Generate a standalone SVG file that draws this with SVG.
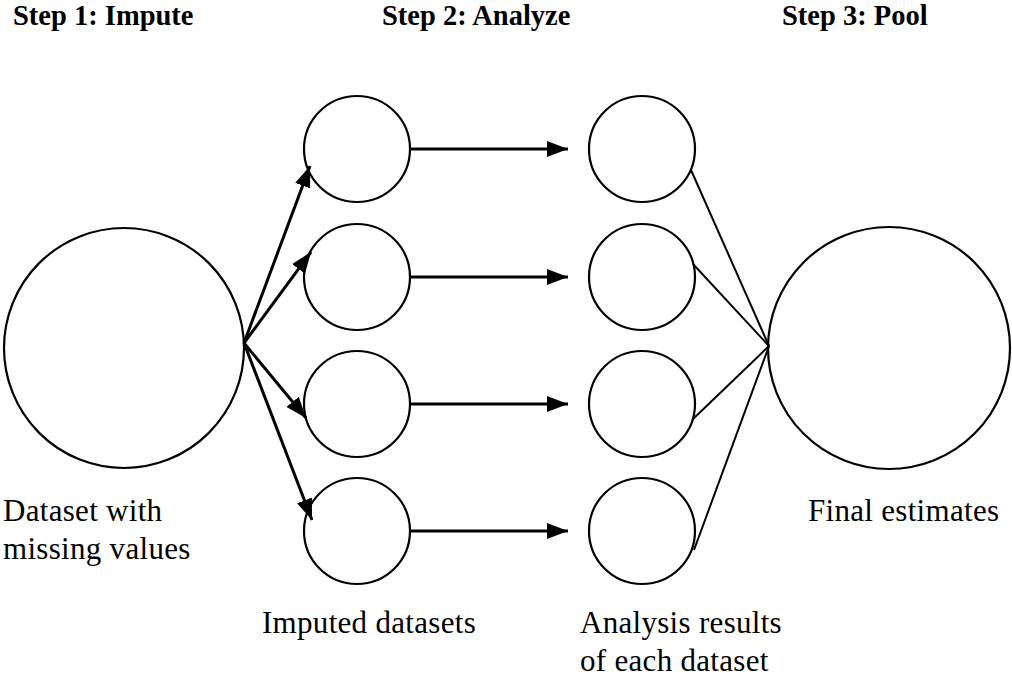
<svg xmlns="http://www.w3.org/2000/svg" width="1012" height="677" viewBox="0 0 1012 677">
<defs>
<style>
.c{fill:none;stroke:#000;stroke-width:2.2}
.a{stroke:#000;stroke-width:3;fill:none}
.l{stroke:#000;stroke-width:2;fill:none}
.h{font-family:"Liberation Serif","Times New Roman",serif;font-weight:bold;font-size:28.5px;fill:#000}
.t{font-family:"Liberation Serif","Times New Roman",serif;font-size:31px;letter-spacing:0.3px;fill:#000}
</style>
<marker id="ah" markerUnits="userSpaceOnUse" markerWidth="24" markerHeight="18" refX="21" refY="8" orient="auto">
<path d="M0,0 L21,8 L0,16 Z" fill="#000"/>
</marker>
</defs>
<rect width="1012" height="677" fill="#fff"/>
<g id="headings">
<text class="h" x="13" y="25">Step 1: Impute</text>
<text class="h" x="382" y="25">Step 2: Analyze</text>
<text class="h" x="782" y="25">Step 3: Pool</text>
</g>
<g id="dataset">
<circle class="c" cx="124" cy="348" r="120"/>
<text class="t" x="3" y="521">Dataset with</text>
<text class="t" x="3" y="559">missing values</text>
</g>
<g id="imputed">
<circle class="c" cx="357" cy="149" r="53"/>
<circle class="c" cx="357" cy="277" r="53"/>
<circle class="c" cx="357" cy="404" r="53"/>
<circle class="c" cx="357" cy="531" r="53"/>
<text class="t" x="262" y="633">Imputed datasets</text>
</g>
<g id="results">
<circle class="c" cx="642" cy="149" r="53"/>
<circle class="c" cx="642" cy="277" r="53"/>
<circle class="c" cx="642" cy="404" r="53"/>
<circle class="c" cx="642" cy="531" r="53"/>
<text class="t" x="580" y="633">Analysis results</text>
<text class="t" x="580" y="671">of each dataset</text>
</g>
<g id="final">
<circle class="c" cx="889" cy="348" r="121"/>
<text class="t" x="808" y="521">Final estimates</text>
</g>
<g id="connectors">
<line class="a" x1="244" y1="343" x2="310" y2="166" marker-end="url(#ah)"/>
<line class="a" x1="244" y1="343" x2="311" y2="252" marker-end="url(#ah)"/>
<line class="a" x1="244" y1="343" x2="306" y2="418" marker-end="url(#ah)"/>
<line class="a" x1="244" y1="343" x2="312" y2="520" marker-end="url(#ah)"/>
<line class="a" x1="410" y1="149" x2="568" y2="149" marker-end="url(#ah)"/>
<line class="a" x1="410" y1="277" x2="568" y2="277" marker-end="url(#ah)"/>
<line class="a" x1="410" y1="404" x2="568" y2="404" marker-end="url(#ah)"/>
<line class="a" x1="410" y1="531" x2="568" y2="531" marker-end="url(#ah)"/>
<line class="l" x1="691" y1="170" x2="769" y2="346"/>
<line class="l" x1="693" y1="264" x2="769" y2="346"/>
<line class="l" x1="692" y1="420" x2="769" y2="346"/>
<line class="l" x1="694" y1="550" x2="769" y2="346"/>
</g>
</svg>
